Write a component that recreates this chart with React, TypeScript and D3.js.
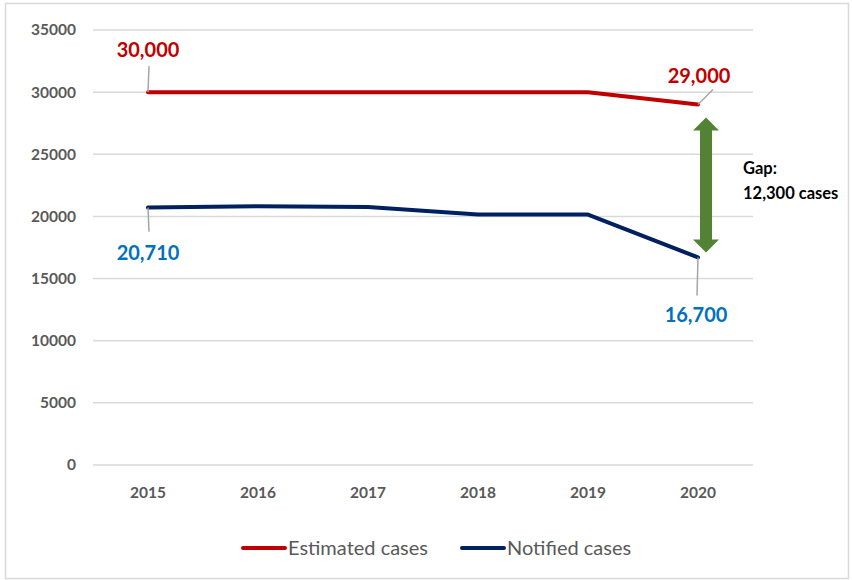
import React from "react";
import * as d3 from "d3";

const years = ["2015", "2016", "2017", "2018", "2019", "2020"];
const estimated = [30000, 30000, 30000, 30000, 30000, 29000];
const notified = [20710, 20820, 20760, 20150, 20150, 16700];
const yTicks = [0, 5000, 10000, 15000, 20000, 25000, 30000, 35000];
const seriesNames = ["Estimated cases", "Notified cases"];
const gapLines = ["Gap:", "12,300 cases"];

const W = 852;
const H = 580;
const RED = "#C00000";
const NAVY = "#002060";
const BLUE = "#0070C0";
const GREEN = "#548235";
const FONT = "Lato, 'Open Sans', sans-serif";

const App = () => {
  const x = d3.scaleBand().domain(years).range([93, 753]);
  const y = d3.scaleLinear().domain([0, 35000]).range([465, 30]);
  const cx = (i: number) => x(years[i])! + x.bandwidth() / 2;

  const line = d3
    .line<number>()
    .x((_, i) => cx(i))
    .y((d) => y(d));

  const last = years.length - 1;
  const fmt = d3.format(",");

  // arrow between the two 2020 points
  const ax = cx(last) + 8;
  const aTop = y(estimated[last]) + 13;
  const aBot = y(notified[last]) - 5;
  const head = 13;
  const shaft = 6;
  const headW = 13;
  const arrow = [
    [ax, aTop],
    [ax + headW, aTop + head],
    [ax + shaft, aTop + head],
    [ax + shaft, aBot - head],
    [ax + headW, aBot - head],
    [ax, aBot],
    [ax - headW, aBot - head],
    [ax - shaft, aBot - head],
    [ax - shaft, aTop + head],
    [ax - headW, aTop + head],
  ]
    .map((p) => p.join(","))
    .join(" ");

  return (
    <svg width={W} height={H} style={{ display: "block", position: "absolute", left: 0, top: 0 }} fontFamily={FONT}>
      <rect x={0} y={0} width={W} height={H} fill="#fff" />
      <rect x={5.5} y={3.5} width={W - 9} height={H - 5} fill="none" stroke="#d9d9d9" strokeWidth={1.5} />

      {yTicks.map((t) => (
        <g key={t}>
          <line x1={93} x2={753} y1={y(t)} y2={y(t)} stroke="#d9d9d9" strokeWidth={1.5} />
          <text x={76} y={y(t)} dy="0.35em" textAnchor="end" fontSize={15.5} fontWeight="bold" fill="#595959">
            {t}
          </text>
        </g>
      ))}

      {years.map((yr, i) => (
        <text key={yr} x={cx(i)} y={493} dy="0.35em" textAnchor="middle" fontSize={15.5} fontWeight="bold" fill="#595959">
          {yr}
        </text>
      ))}

      <path d={line(estimated) ?? ""} fill="none" stroke={RED} strokeWidth={4} strokeLinecap="round" strokeLinejoin="round" />
      <path d={line(notified) ?? ""} fill="none" stroke={NAVY} strokeWidth={4} strokeLinecap="round" strokeLinejoin="round" />

      {/* data labels with leader lines */}
      <line x1={cx(0)} y1={y(estimated[0])} x2={cx(0) + 1} y2={y(estimated[0]) - 26} stroke="#a6a6a6" strokeWidth={1.5} />
      <text x={cx(0)} y={y(estimated[0]) - 42} dy="0.35em" textAnchor="middle" fontSize={20} fontWeight="bold" fill={RED}>
        {fmt(estimated[0])}
      </text>

      <line x1={cx(last)} y1={y(estimated[last])} x2={cx(last) + 15} y2={y(estimated[last]) - 15} stroke="#a6a6a6" strokeWidth={1.5} />
      <text x={cx(last) + 1} y={y(estimated[last]) - 29} dy="0.35em" textAnchor="middle" fontSize={20} fontWeight="bold" fill={RED}>
        {fmt(estimated[last])}
      </text>

      <line x1={cx(0)} y1={y(notified[0])} x2={cx(0) + 1} y2={y(notified[0]) + 24} stroke="#a6a6a6" strokeWidth={1.5} />
      <text x={cx(0)} y={y(notified[0]) + 45} dy="0.35em" textAnchor="middle" fontSize={20} fontWeight="bold" fill={BLUE}>
        {fmt(notified[0])}
      </text>

      <line x1={cx(last)} y1={y(notified[last])} x2={cx(last) - 1} y2={y(notified[last]) + 38} stroke="#a6a6a6" strokeWidth={1.5} />
      <text x={cx(last) - 2} y={y(notified[last]) + 58} dy="0.35em" textAnchor="middle" fontSize={20} fontWeight="bold" fill={BLUE}>
        {fmt(notified[last])}
      </text>

      <polygon points={arrow} fill={GREEN} />

      {gapLines.map((g, i) => (
        <text key={g} x={743} y={168 + i * 25} dy="0.35em" fontSize={16.5} fontWeight="bold" fill="#000">
          {g}
        </text>
      ))}

      {/* legend */}
      {seriesNames.map((s, i) => {
        const lx = i === 0 ? 243 : 462;
        return (
          <g key={s}>
            <line x1={lx} x2={lx + 42} y1={548} y2={548} stroke={i === 0 ? RED : NAVY} strokeWidth={4} strokeLinecap="round" />
            <text x={lx + 45} y={548} dy="0.35em" fontSize={20} fill="#595959">
              {s}
            </text>
          </g>
        );
      })}
    </svg>
  );
};

export default App;
